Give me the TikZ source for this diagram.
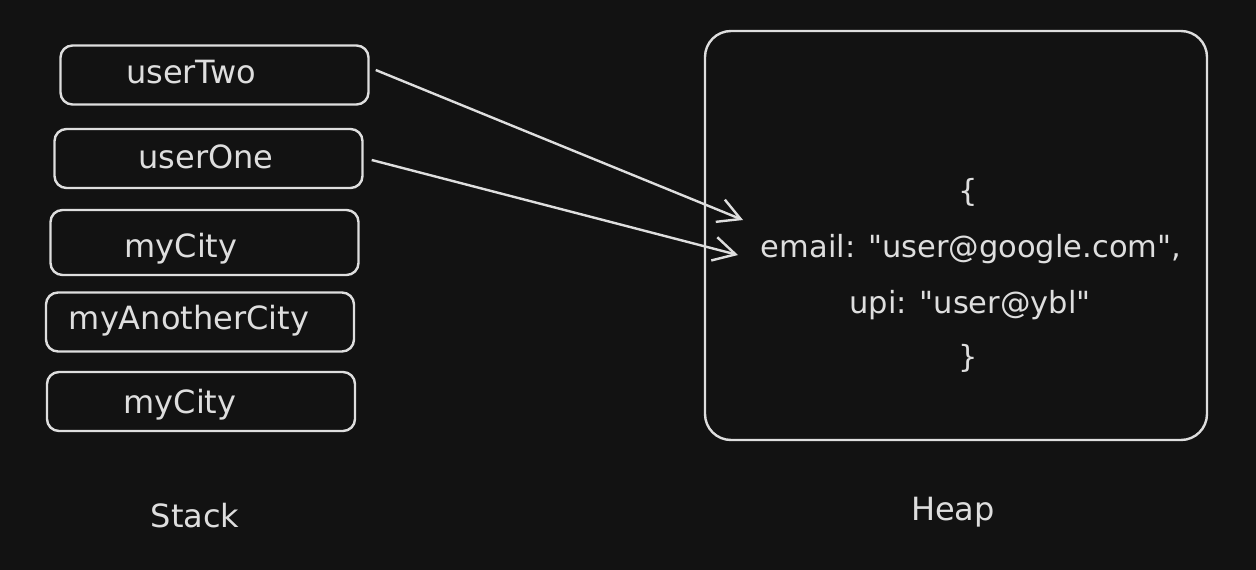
\documentclass[tikz,border=0pt]{standalone}
\usepackage{fontspec}
\setmainfont{DejaVu Sans}[Ligatures=TeXOff]
\usetikzlibrary{arrows.meta}
\definecolor{bgc}{HTML}{121212}
\definecolor{ink}{HTML}{DEDEDE}
\tikzset{
  stackbox/.style={draw=ink, line width=2.4pt, rounded corners=12pt, minimum width=308pt, minimum height=59pt, inner sep=0pt},
  heapbox/.style={draw=ink, line width=2.4pt, rounded corners=26pt, minimum width=502pt, minimum height=409pt, inner sep=0pt},
  stxt/.style={text=ink, font=\fontsize{32}{38}\selectfont, anchor=base, inner sep=0pt},
  htxt/.style={text=ink, font=\fontsize{30.5}{36}\selectfont, anchor=base, inner sep=0pt},
  ptr/.style={draw=ink, line width=2.4pt, -{Straight Barb[length=22pt,width=24pt,line width=2.4pt]}}
}
\begin{document}
\begin{tikzpicture}[x=1pt,y=-1pt]
\fill[bgc] (0,0) rectangle (1256,570);
\useasboundingbox (0,0) rectangle (1256,570);
% stack boxes
\node[stackbox] (b1) at (214.5,75) {};
\node[stackbox] (b2) at (208.5,158.5) {};
\node[stackbox, minimum height=65pt] (b3) at (204.5,242.5) {};
\node[stackbox] (b4) at (200,322) {};
\node[stackbox] (b5) at (201,401.5) {};
\node[stxt] (t1) at (191,83) {userTwo};
\node[stxt] (t2) at (206,168) {userOne};
\node[stxt] (t3) at (181,257) {myCity};
\node[stxt] (t4) at (189,329) {myAnotherCity};
\node[stxt] (t5) at (180,413) {myCity};
% heap
\node[heapbox] (heap) at (956,235.5) {};
\node[htxt] (ob) at (968,201) {\{};
\node[htxt] (em) at (971,257) {email: "user@google.com",};
\node[htxt] (up) at (970,313) {upi: "user@ybl"};
\node[htxt] (cb) at (968,367) {\}};
% labels
\node[stxt] (stk) at (195,527) {Stack};
\node[stxt] (hp) at (953,520) {Heap};
% pointers
\coordinate (h1) at (743,220);
\coordinate (h2) at (738,255);
\draw[ptr] ([xshift=6pt,yshift=5pt]b1.east) -- (h1);
\draw[ptr] ([xshift=8pt,yshift=-1.5pt]b2.east) -- (h2);
\end{tikzpicture}
\end{document}
